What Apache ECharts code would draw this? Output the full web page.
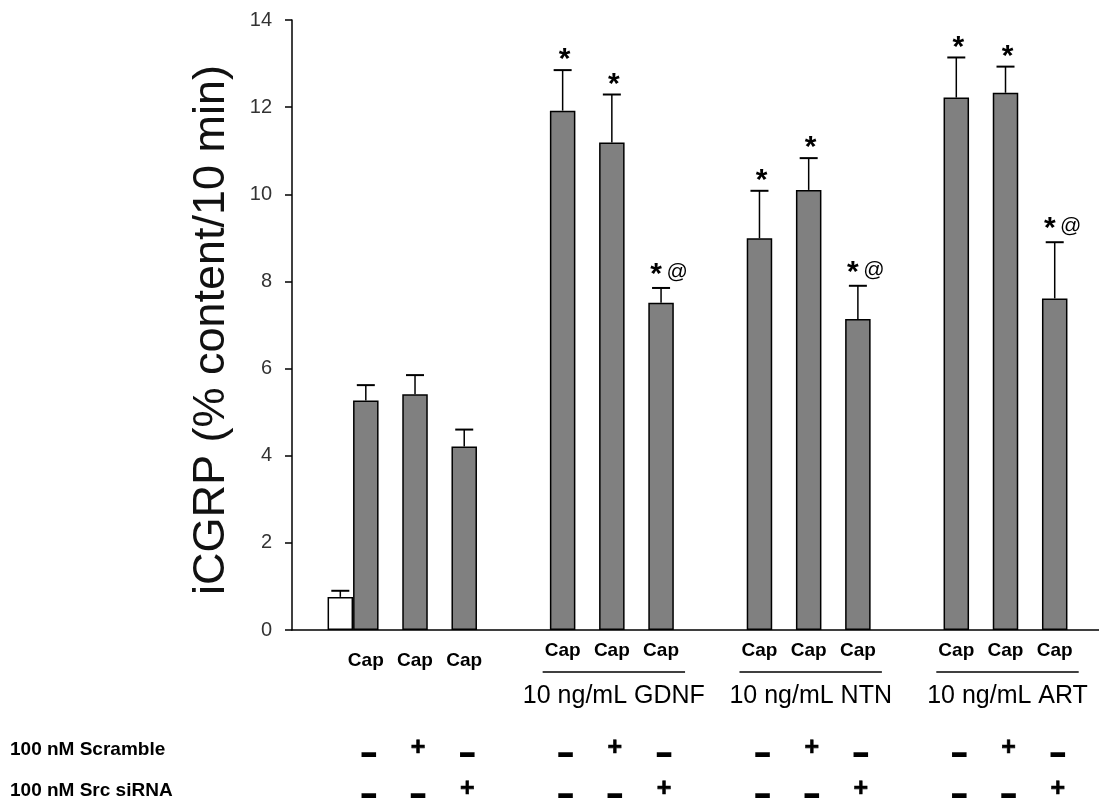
<!DOCTYPE html>
<html><head><meta charset="utf-8">
<script src="https://cdn.jsdelivr.net/npm/echarts@6/dist/echarts.min.js"></script>
<style>html,body{margin:0;padding:0;background:#fff}#chart{width:1099px;height:804px}</style>
</head><body><div id="chart"></div>
<script>
// ---------------- data ----------------
const yTicks = [0, 2, 4, 6, 8, 10, 12, 14];
const yTitle = 'iCGRP (% content/10 min)';
const groupNames = ['', '10 ng/mL GDNF', '10 ng/mL NTN', '10 ng/mL ART'];
const barGroup  = [0, 0, 0, 0, 1, 1, 1, 2, 2, 2, 3, 3, 3];
const barMember = [0, 0, 1, 2, 0, 1, 2, 0, 1, 2, 0, 1, 2];
const barOpen   = [true, false, false, false, false, false, false, false, false, false, false, false, false];
const xLabels   = ['', 'Cap', 'Cap', 'Cap', 'Cap', 'Cap', 'Cap', 'Cap', 'Cap', 'Cap', 'Cap', 'Cap', 'Cap'];
const values    = [0.76, 5.27, 5.41, 4.21, 11.92, 11.19, 7.51, 8.99, 10.10, 7.14, 12.22, 12.33, 7.61];
const sem       = [0.14, 0.35, 0.44, 0.39, 0.93, 1.10, 0.34, 1.09, 0.73, 0.76, 0.92, 0.60, 1.29];
const marks     = ['', '', '', '', '*', '*', '*@', '*', '*', '*@', '*', '*', '*@'];
const rowLabels = ['100 nM Scramble', '100 nM Src siRNA'];
const scrambleRow = ['', '−', '+', '−', '−', '+', '−', '−', '+', '−', '−', '+', '−'];
const srcRow      = ['', '−', '−', '+', '−', '−', '+', '−', '−', '+', '−', '−', '+'];

// ---------------- layout ----------------
const GRID = {left: 292, right: 0, top: 20, bottom: 174};
const X_MIN = -1.5, X_MAX = 14.9;
const BAR_W = 25.5;
const UNIT_PX = (1099 - GRID.left - GRID.right) / (X_MAX - X_MIN);
const SLOTS_PER_GROUP = 4;
const ROW_Y = [750, 791];
const xOf = i => barGroup[i] * SLOTS_PER_GROUP + barMember[i] - (barOpen[i] ? BAR_W / UNIT_PX : 0);

const barData = values.map((v, i) => ({
  value: [xOf(i), v],
  itemStyle: {color: barOpen[i] ? '#ffffff' : '#808080', borderColor: '#000', borderWidth: 1.5}
}));
const errData = values.map((v, i) => [xOf(i), v, sem[i], i]);
const labelData = values.map((v, i) => [xOf(i), 0, i]);
const groupData = [];
for (let g = 1; g < groupNames.length; g++) {
  const idx = barGroup.map((gg, i) => gg === g ? i : -1).filter(i => i >= 0);
  groupData.push([xOf(idx[0]), xOf(idx[idx.length - 1]), g]);
}

const chart = echarts.init(document.getElementById('chart'), null, {renderer: 'canvas'});
const FONT = 'Liberation Sans, Arial, Helvetica, sans-serif';

chart.setOption({
  animation: false,
  backgroundColor: '#fff',
  grid: {left: GRID.left, right: GRID.right, top: GRID.top, bottom: GRID.bottom, containLabel: false},
  xAxis: {
    type: 'value', min: X_MIN, max: X_MAX,
    axisLine: {show: true, onZero: false, lineStyle: {color: '#000', width: 1.5}},
    axisTick: {show: false}, axisLabel: {show: false}, splitLine: {show: false}
  },
  yAxis: {
    type: 'value', min: yTicks[0], max: yTicks[yTicks.length - 1], interval: yTicks[1] - yTicks[0],
    axisLine: {show: true, onZero: false, lineStyle: {color: '#000', width: 1.5}},
    axisTick: {show: true, inside: false, length: 7, lineStyle: {color: '#000', width: 1.5}},
    axisLabel: {show: true, margin: 20, fontSize: 20, color: '#333', fontFamily: FONT},
    splitLine: {show: false}
  },
  graphic: [
    {type: 'text', x: 212, y: 330, rotation: Math.PI / 2,
     style: {text: yTitle, font: '45px ' + FONT, fill: '#111', align: 'center', verticalAlign: 'middle'}},
    {type: 'text', x: 10, y: ROW_Y[0],
     style: {text: rowLabels[0], font: 'bold 19px ' + FONT, fill: '#000', align: 'left', verticalAlign: 'middle'}},
    {type: 'text', x: 10, y: ROW_Y[1],
     style: {text: rowLabels[1], font: 'bold 19px ' + FONT, fill: '#000', align: 'left', verticalAlign: 'middle'}}
  ],
  series: [
    {
      type: 'bar', data: barData, barWidth: BAR_W, z: 2
    },
    {
      type: 'custom', z: 3, clip: false, data: errData,
      encode: {x: 0, y: 1},
      renderItem: function (params, api) {
        const x = api.value(0), v = api.value(1), e = api.value(2), i = api.value(3);
        const base = api.coord([x, v]);
        const top = api.coord([x, v + e]);
        const half = 9;
        const children = [
          {type: 'line', shape: {x1: base[0], y1: base[1], x2: top[0], y2: top[1]}, style: {stroke: '#000', lineWidth: 1.5}},
          {type: 'line', shape: {x1: top[0] - half, y1: top[1], x2: top[0] + half, y2: top[1]}, style: {stroke: '#000', lineWidth: 2}}
        ];
        const m = marks[i];
        if (m === '*') {
          children.push({type: 'text', x: top[0] + 2, y: top[1] - 10,
            style: {text: '*', font: 'bold 30px ' + FONT, fill: '#000', align: 'center', verticalAlign: 'middle'}});
        } else if (m === '*@') {
          children.push({type: 'text', x: top[0] - 5, y: top[1] - 13,
            style: {text: '*', font: 'bold 30px ' + FONT, fill: '#000', align: 'center', verticalAlign: 'middle'}});
          children.push({type: 'text', x: top[0] + 16, y: top[1] - 16,
            style: {text: '@', font: '21px ' + FONT, fill: '#000', align: 'center', verticalAlign: 'middle'}});
        }
        return {type: 'group', children: children};
      }
    },
    {
      type: 'custom', z: 3, clip: false, data: labelData,
      encode: {x: 0, y: 1},
      renderItem: function (params, api) {
        const x = api.value(0), i = api.value(2);
        const p = api.coord([x, 0]);
        const children = [];
        if (xLabels[i]) {
          children.push({type: 'text', x: p[0], y: p[1] + (barGroup[i] === 0 ? 31 : 21),
            style: {text: xLabels[i], font: 'bold 19px ' + FONT, fill: '#000', align: 'center', verticalAlign: 'middle'}});
        }
        const rows = [scrambleRow[i], srcRow[i]];
        rows.forEach((s, r) => {
          if (!s) return;
          const minus = s === '−';
          children.push({type: 'text', x: p[0] + 3, y: ROW_Y[r] + (minus ? 6 : -2),
            style: {text: s, font: 'bold 25px ' + FONT, fill: '#000', align: 'center', verticalAlign: 'middle',
                    stroke: '#000', lineWidth: minus ? 2 : 0.6}});
        });
        return {type: 'group', children: children};
      }
    },
    {
      type: 'custom', z: 3, clip: false, data: groupData,
      encode: {x: 0},
      renderItem: function (params, api) {
        const a = api.coord([api.value(0), 0]);
        const b = api.coord([api.value(1), 0]);
        const g = api.value(2);
        const y = a[1] + 42;
        return {type: 'group', children: [
          {type: 'line', shape: {x1: a[0] - 20, y1: y, x2: b[0] + 24, y2: y}, style: {stroke: '#000', lineWidth: 1.5}},
          {type: 'text', x: (a[0] + b[0]) / 2 + 2, y: y + 24,
           style: {text: groupNames[g], font: '25px ' + FONT, fill: '#000', align: 'center', verticalAlign: 'middle'}}
        ]};
      }
    }
  ]
});
</script>
</body></html>
